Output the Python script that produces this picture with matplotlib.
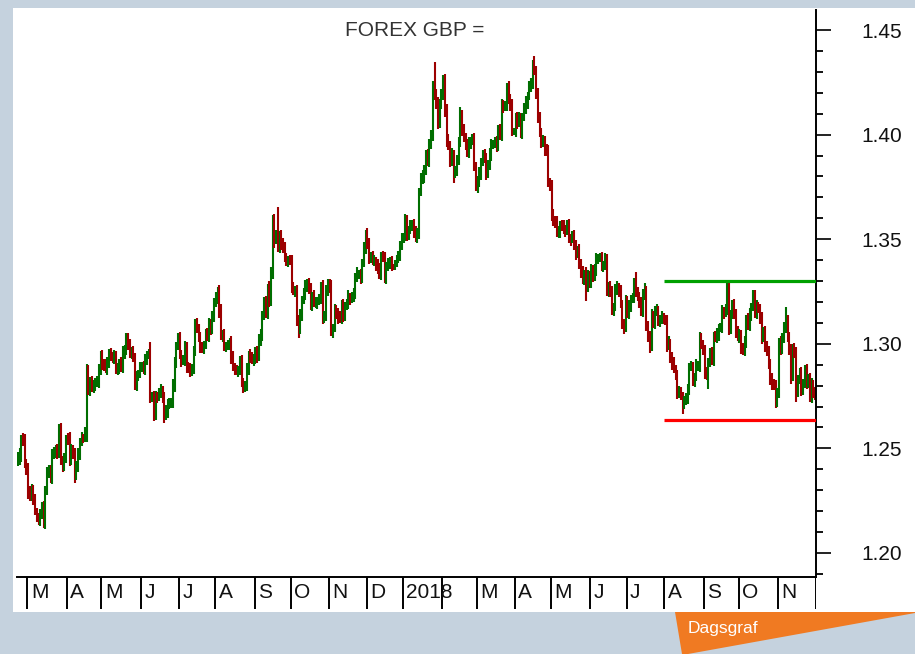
import numpy as np
import pandas as pd
import matplotlib
matplotlib.use("Agg")
import matplotlib.pyplot as plt
from matplotlib.collections import LineCollection
from matplotlib.patches import Rectangle, Polygon
from matplotlib.ticker import MultipleLocator, FormatStrFormatter

plt.rcParams['font.family'] = ['Liberation Sans', 'DejaVu Sans']

# daily closes (GBP/USD)
close_by_month = {
    "2017-02": [1.2455, 1.2455, 1.2550, 1.2540, 1.2425, 1.2410],
    "2017-03": [1.2290, 1.2275, 1.2305, 1.2255, 1.2200, 1.2170, 1.2160, 1.2180, 1.2220, 1.2150, 1.2300, 1.2380,
                1.2395, 1.2360, 1.2475, 1.2475, 1.2490, 1.2475, 1.2580, 1.2440, 1.2415, 1.2460, 1.2550],
    "2017-04": [1.2545, 1.2440, 1.2490, 1.2480, 1.2370, 1.2410, 1.2475, 1.2530, 1.2555, 1.2550, 1.2570, 1.2870,
                1.2780, 1.2815, 1.2795, 1.2800, 1.2815, 1.2815, 1.2880, 1.2945],
    "2017-05": [1.2905, 1.2895, 1.2880, 1.2910, 1.2955, 1.2940, 1.2935, 1.2945, 1.2875, 1.2885, 1.2905, 1.2885,
                1.2955, 1.2970, 1.3030, 1.3000, 1.2955, 1.2965, 1.2935, 1.2805, 1.2845, 1.2855, 1.2885],
    "2017-06": [1.2890, 1.2880, 1.2925, 1.2945, 1.2950, 1.2745, 1.2745, 1.2660, 1.2750, 1.2745, 1.2765, 1.2780,
                1.2745, 1.2655, 1.2675, 1.2715, 1.2715, 1.2720, 1.2800, 1.2910, 1.2990, 1.3025],
    "2017-07": [1.2950, 1.2920, 1.2920, 1.2990, 1.2890, 1.2880, 1.2865, 1.2880, 1.2970, 1.3095, 1.3070, 1.3035,
                1.2985, 1.2975, 1.2995, 1.3045, 1.3040, 1.3100, 1.3065, 1.3130, 1.3200],
    "2017-08": [1.3220, 1.3255, 1.3160, 1.3040, 1.3045, 1.2990, 1.2990, 1.2995, 1.3010, 1.2935, 1.2890, 1.2875,
                1.2870, 1.2875, 1.2915, 1.2815, 1.2795, 1.2795, 1.2885, 1.2945, 1.2935, 1.2925, 1.2930],
    "2017-09": [1.2965, 1.2940, 1.3015, 1.3045, 1.3135, 1.3200, 1.3150, 1.3265, 1.3200, 1.3340, 1.3590, 1.3500,
                1.3505, 1.3470, 1.3520, 1.3475, 1.3465, 1.3410, 1.3395, 1.3400, 1.3395],
    "2017-10": [1.3270, 1.3255, 1.3255, 1.3110, 1.3070, 1.3140, 1.3210, 1.3235, 1.3280, 1.3290, 1.3260, 1.3185,
                1.3230, 1.3195, 1.3195, 1.3205, 1.3215, 1.3275, 1.3125, 1.3130, 1.3260, 1.3285],
    "2017-11": [1.3275, 1.3060, 1.3075, 1.3165, 1.3145, 1.3125, 1.3120, 1.3190, 1.3135, 1.3180, 1.3190, 1.3225,
                1.3215, 1.3225, 1.3245, 1.3315, 1.3335, 1.3335, 1.3315, 1.3385, 1.3460, 1.3525],
    "2017-12": [1.3480, 1.3410, 1.3420, 1.3395, 1.3395, 1.3380, 1.3355, 1.3335, 1.3420, 1.3410, 1.3315, 1.3370,
                1.3385, 1.3395, 1.3370, 1.3365, 1.3390, 1.3405, 1.3420, 1.3470, 1.3505],
    "2018-01": [1.3510, 1.3590, 1.3520, 1.3545, 1.3565, 1.3570, 1.3535, 1.3505, 1.3530, 1.3725, 1.3790, 1.3800,
                1.3830, 1.3905, 1.3870, 1.3960, 1.3990, 1.4230, 1.4190, 1.4155, 1.4050, 1.4150, 1.4190],
    "2018-02": [1.4265, 1.4115, 1.3965, 1.3945, 1.3875, 1.3905, 1.3825, 1.3825, 1.3875, 1.3965, 1.4090, 1.4025,
                1.3990, 1.3955, 1.3915, 1.3960, 1.3970, 1.3980, 1.3850, 1.3760],
    "2018-03": [1.3775, 1.3815, 1.3870, 1.3900, 1.3890, 1.3815, 1.3855, 1.3905, 1.3955, 1.3955, 1.3965, 1.3945,
                1.4025, 1.3995, 1.4140, 1.4135, 1.4140, 1.4230, 1.4175, 1.4140, 1.4015, 1.4015],
    "2018-04": [1.4085, 1.4055, 1.4080, 1.4010, 1.4085, 1.4125, 1.4155, 1.4185, 1.4230, 1.4240, 1.4330, 1.4310,
                1.4200, 1.4080, 1.4010, 1.3965, 1.3975, 1.3930, 1.3920, 1.3775, 1.3760],
    "2018-05": [1.3615, 1.3590, 1.3585, 1.3530, 1.3535, 1.3565, 1.3560, 1.3550, 1.3540, 1.3565, 1.3505, 1.3500,
                1.3515, 1.3475, 1.3430, 1.3445, 1.3385, 1.3345, 1.3305, 1.3335, 1.3275, 1.3330, 1.3295],
    "2018-06": [1.3355, 1.3320, 1.3350, 1.3410, 1.3410, 1.3410, 1.3375, 1.3375, 1.3405, 1.3255, 1.3275, 1.3245,
                1.3165, 1.3175, 1.3260, 1.3270, 1.3255, 1.3190, 1.3095, 1.3075, 1.3205],
    "2018-07": [1.3145, 1.3180, 1.3215, 1.3220, 1.3285, 1.3245, 1.3230, 1.3200, 1.3155, 1.3230, 1.3250, 1.3090,
                1.3035, 1.2985, 1.3135, 1.3100, 1.3155, 1.3160, 1.3110, 1.3115, 1.3125, 1.3120],
    "2018-08": [1.3115, 1.2990, 1.3005, 1.2935, 1.2905, 1.2880, 1.2850, 1.2765, 1.2770, 1.2750, 1.2715, 1.2725,
                1.2735, 1.2785, 1.2890, 1.2890, 1.2825, 1.2840, 1.2895, 1.2895, 1.3020, 1.2995, 1.2970],
    "2018-09": [1.2860, 1.2850, 1.2910, 1.2955, 1.2925, 1.3035, 1.3030, 1.3045, 1.3075, 1.3075, 1.3155, 1.3150,
                1.3165, 1.3265, 1.3070, 1.3140, 1.3185, 1.3145, 1.3060, 1.3035],
    "2018-10": [1.3045, 1.2975, 1.2965, 1.3010, 1.3120, 1.3085, 1.3140, 1.3175, 1.3230, 1.3150, 1.3180, 1.3165,
                1.3120, 1.3030, 1.3060, 1.2985, 1.2970, 1.2900, 1.2830, 1.2810, 1.2800, 1.2725, 1.2770],
    "2018-11": [1.3005, 1.2970, 1.3030, 1.3080, 1.3120, 1.3030, 1.2970, 1.2840, 1.2980, 1.2955, 1.2770, 1.2830,
                1.2860, 1.2780, 1.2810, 1.2875, 1.2815, 1.2835, 1.2740, 1.2805, 1.2770, 1.2755],
}

# wick above max(open, close) and below min(open, close), in pips
up_wick_pips = {
    "2017-02": [30, 45, 15, 25, 30, 25],
    "2017-03": [20, 30, 25, 20, 25, 15, 20, 30, 25, 30, 20, 30, 25, 25, 20, 30, 25, 30, 35, 40, 25, 20, 15],
    "2017-04": [25, 35, 30, 25, 20, 30, 25, 20, 25, 15, 30, 35, 30, 25, 30, 25, 20, 30, 25, 20],
    "2017-05": [25, 20, 30, 25, 20, 25, 20, 25, 20, 25, 20, 30, 35, 25, 20, 20, 25, 20, 25, 20, 25, 20, 30],
    "2017-06": [25, 30, 25, 20, 25, 60, 25, 30, 25, 20, 25, 30, 20, 25, 30, 20, 25, 20, 30, 25, 20, 25],
    "2017-07": [30, 20, 25, 25, 20, 25, 30, 25, 20, 25, 30, 25, 20, 25, 20, 25, 30, 25, 20, 25, 20],
    "2017-08": [30, 15, 25, 30, 20, 25, 20, 25, 20, 25, 30, 20, 25, 20, 25, 30, 20, 25, 25, 20, 30, 25, 20],
    "2017-09": [20, 25, 30, 25, 20, 25, 30, 20, 35, 25, 25, 30, 40, 150, 20, 25, 30, 20, 25, 20, 25],
    "2017-10": [30, 25, 20, 25, 30, 25, 20, 30, 25, 20, 25, 30, 20, 25, 30, 20, 25, 20, 30, 25, 20, 25],
    "2017-11": [25, 30, 20, 25, 20, 25, 30, 20, 25, 20, 25, 30, 20, 25, 20, 25, 30, 20, 25, 20, 25, 20],
    "2017-12": [30, 25, 20, 25, 30, 20, 25, 30, 20, 25, 30, 20, 25, 20, 25, 10, 10, 20, 25, 20, 25],
    "2018-01": [20, 30, 25, 20, 25, 20, 25, 30, 25, 20, 25, 30, 25, 20, 25, 20, 30, 25, 115, 30, 25, 20, 30],
    "2018-02": [20, 25, 30, 40, 25, 30, 20, 25, 30, 25, 40, 30, 25, 20, 25, 30, 20, 25, 30, 20],
    "2018-03": [25, 30, 20, 25, 30, 20, 25, 30, 25, 20, 25, 30, 20, 25, 30, 25, 20, 15, 25, 20, 30, 15],
    "2018-04": [20, 25, 30, 25, 20, 25, 30, 20, 25, 30, 25, 47, 20, 25, 30, 20, 25, 20, 25, 30, 20],
    "2018-05": [25, 30, 20, 25, 30, 20, 25, 30, 20, 25, 30, 20, 25, 30, 20, 25, 30, 20, 25, 20, 30, 25, 20],
    "2018-06": [25, 20, 30, 25, 20, 25, 30, 20, 30, 25, 20, 25, 30, 20, 25, 30, 20, 25, 20, 25, 30],
    "2018-07": [25, 30, 20, 25, 30, 60, 25, 20, 25, 30, 40, 25, 20, 25, 30, 20, 25, 30, 20, 25, 30, 20],
    "2018-08": [20, 25, 30, 20, 25, 30, 20, 25, 30, 25, 20, 25, 30, 25, 20, 30, 25, 20, 30, 25, 35, 30, 25],
    "2018-09": [25, 30, 20, 25, 30, 20, 25, 30, 20, 25, 30, 20, 25, 33, 25, 20, 25, 30, 20, 25],
    "2018-10": [25, 20, 30, 25, 20, 25, 30, 20, 27, 25, 30, 20, 25, 30, 20, 25, 30, 20, 25, 30, 20, 25, 20],
    "2018-11": [25, 30, 20, 25, 56, 20, 25, 30, 20, 25, 30, 20, 25, 30, 20, 25, 30, 20, 25, 30, 20, 25],
}
down_wick_pips = {
    "2017-02": [25, 35, 20, 30, 20, 35],
    "2017-03": [30, 25, 25, 25, 20, 20, 25, 30, 20, 30, 35, 25, 20, 25, 30, 25, 20, 25, 20, 20, 30, 25, 30],
    "2017-04": [30, 25, 20, 30, 35, 20, 25, 30, 20, 25, 20, 40, 25, 30, 25, 30, 25, 20, 25, 30],
    "2017-05": [30, 25, 20, 30, 25, 20, 25, 30, 20, 25, 30, 20, 25, 30, 25, 30, 25, 30, 20, 25, 30, 25, 20],
    "2017-06": [20, 25, 30, 25, 20, 30, 25, 30, 25, 30, 20, 25, 30, 35, 20, 30, 25, 20, 25, 30, 25, 20],
    "2017-07": [25, 30, 20, 25, 30, 20, 25, 20, 25, 30, 20, 25, 30, 20, 25, 20, 25, 30, 25, 20, 25],
    "2017-08": [25, 30, 35, 20, 30, 25, 30, 20, 25, 30, 20, 25, 20, 30, 25, 20, 30, 25, 20, 35, 25, 20, 30],
    "2017-09": [25, 30, 20, 25, 30, 20, 25, 30, 25, 20, 30, 40, 25, 30, 35, 25, 30, 20, 25, 30, 20],
    "2017-10": [25, 20, 30, 25, 40, 25, 30, 20, 25, 30, 20, 25, 30, 20, 25, 30, 20, 25, 30, 25, 20, 30],
    "2017-11": [30, 25, 30, 20, 25, 30, 20, 25, 30, 25, 20, 25, 30, 20, 25, 30, 20, 25, 30, 25, 20, 30],
    "2017-12": [25, 30, 25, 20, 25, 30, 20, 25, 30, 20, 25, 30, 20, 25, 20, 10, 10, 25, 20, 25, 20],
    "2018-01": [25, 20, 30, 25, 20, 25, 30, 20, 25, 30, 20, 25, 30, 25, 20, 25, 30, 20, 25, 30, 25, 20, 25],
    "2018-02": [25, 30, 25, 20, 30, 25, 55, 30, 25, 20, 25, 30, 25, 30, 20, 25, 30, 20, 25, 30],
    "2018-03": [40, 25, 30, 20, 25, 30, 20, 25, 30, 25, 20, 30, 25, 20, 25, 30, 20, 25, 30, 25, 20, 15],
    "2018-04": [25, 30, 20, 25, 30, 20, 25, 30, 20, 25, 20, 25, 30, 25, 20, 30, 25, 30, 20, 25, 30],
    "2018-05": [30, 25, 30, 20, 25, 30, 20, 25, 30, 20, 25, 30, 20, 25, 30, 20, 25, 30, 20, 25, 70, 25, 30],
    "2018-06": [30, 25, 20, 25, 30, 20, 25, 30, 20, 25, 30, 20, 25, 30, 20, 25, 30, 20, 25, 30, 20],
    "2018-07": [20, 25, 30, 20, 25, 20, 25, 30, 20, 25, 20, 30, 25, 30, 20, 25, 30, 20, 25, 30, 20, 25],
    "2018-08": [25, 30, 20, 25, 30, 20, 25, 30, 25, 20, 53, 25, 20, 25, 30, 20, 25, 30, 20, 25, 30, 20, 25],
    "2018-09": [30, 25, 65, 20, 25, 30, 20, 25, 30, 20, 25, 30, 20, 25, 30, 25, 20, 25, 30, 20],
    "2018-10": [30, 25, 20, 25, 30, 20, 25, 30, 20, 25, 30, 20, 25, 30, 20, 25, 30, 20, 25, 30, 20, 30, 25],
    "2018-11": [30, 25, 20, 25, 30, 20, 25, 30, 20, 25, 47, 25, 20, 30, 25, 20, 30, 25, 20, 25, 30, 25],
}
first_open = 1.2440

# month labels under the chart (Feb 2018 is hidden behind "2018")
month_labels = ["M", "A", "M", "J", "J", "A", "S", "O", "N", "D", "2018",
                "", "M", "A", "M", "J", "J", "A", "S", "O", "N"]

resistance = 1.3300
support = 1.2635
channel_start = "2018-08"

GREEN = "#006e00"
RED = "#9c0000"
BG = "#c5d2de"


def px(x, y):
    # figure pixel (from top-left) -> figure fraction
    return x / 915, 1 - y / 654


dates = pd.bdate_range("2017-02-21", "2018-11-30")
month_keys = dates.strftime("%Y-%m")
n = len(dates)

segs, colors = [], []
prev = first_open
for key, closes in close_by_month.items():
    idx = np.where(month_keys == key)[0]
    for i, c, u, d in zip(idx, closes, up_wick_pips[key], down_wick_pips[key]):
        o = prev
        h = max(o, c) + u / 10000
        l = min(o, c) - d / 10000
        col = GREEN if c >= o else RED
        segs += [[(i, l), (i, h)], [(i - 0.5, o), (i, o)], [(i, c), (i + 0.5, c)]]
        colors += [col] * 3
        prev = c

fig = plt.figure(figsize=(9.15, 6.54), dpi=100)
fig.patch.set_facecolor(BG)
x0, y0 = px(13, 612)
x1, y1 = px(915, 8)
fig.patches.append(Rectangle((x0, y0), x1 - x0, y1 - y0, transform=fig.transFigure,
                             facecolor="white", edgecolor="none", zorder=-5))

l, b = px(17, 577)
r, t = px(816, 10)
ax = fig.add_axes([l, b, r - l, t - b])
ax.set_facecolor("white")
ax.add_collection(LineCollection(segs, colors=colors, linewidths=1.5))
ax.set_xlim(-0.5, n - 0.5)
ax.set_ylim(1.1885, 1.4596)

start = np.where(month_keys == channel_start)[0][0] - 0.5
ax.hlines(resistance, start, n - 0.5, color="#00a000", lw=2.3, zorder=3)
ax.hlines(support, start, n - 0.5, color="#ff0000", lw=2.3, zorder=3)

for s in ["left", "top"]:
    ax.spines[s].set_visible(False)
ax.spines["right"].set_linewidth(1.4)
ax.spines["bottom"].set_linewidth(1.4)
ax.set_xticks([])
ax.yaxis.tick_right()
ax.yaxis.set_major_locator(MultipleLocator(0.05))
ax.yaxis.set_minor_locator(MultipleLocator(0.01))
ax.yaxis.set_major_formatter(FormatStrFormatter("%.2f"))
ax.tick_params(axis="y", which="major", length=11, width=1.3, pad=22, labelsize=15, colors="#111111")
ax.tick_params(axis="y", which="minor", length=5, width=1.3)

# month band below the axis
bl, bb = px(17, 609)
band = fig.add_axes([bl, bb, r - l, b - bb])
band.set_xlim(-0.5, n - 0.5)
band.set_ylim(0, 1)
band.axis("off")
starts = [np.where(month_keys == k)[0][0] - 0.5 for k in list(close_by_month)[1:]]
band.vlines(starts + [n - 0.5], 0, 1, color="black", lw=1.4)
for s, lab in zip(starts, month_labels):
    band.text(s + 2.0, 0.5, lab, ha="left", va="center", fontsize=15, color="#111111")

fig.text(*px(415, 31), "FOREX GBP =", ha="center", va="center", fontsize=15, color="#333333")

tag = [px(675, 612), px(915, 612), px(915, 613), px(688, 654), px(682, 654)]
fig.patches.append(Polygon(tag, closed=True, transform=fig.transFigure,
                           facecolor="#f07a22", edgecolor="none", zorder=1))
fig.text(*px(688, 629), "Dagsgraf", ha="left", va="center", fontsize=12.5, color="white")

fig.savefig("out.png", dpi=100, facecolor=BG)
